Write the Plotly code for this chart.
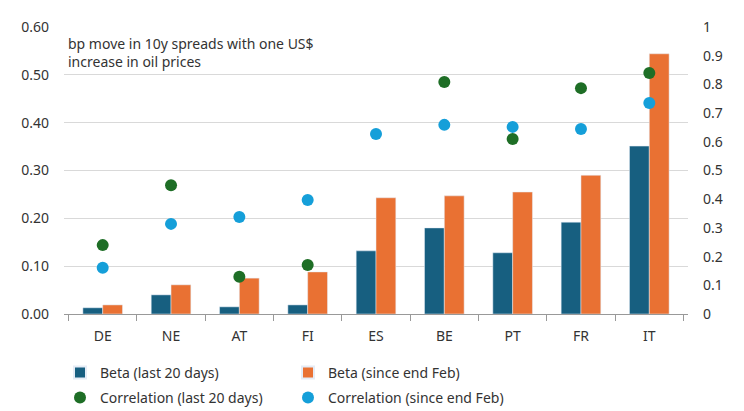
import plotly.graph_objects as go

countries = ['DE', 'NE', 'AT', 'FI', 'ES', 'BE', 'PT', 'FR', 'IT']

# betas (left axis, bp per US$)
beta_20d = [0.013, 0.040, 0.015, 0.019, 0.132, 0.180, 0.128, 0.192, 0.351]
beta_feb = [0.019, 0.061, 0.075, 0.088, 0.243, 0.247, 0.255, 0.290, 0.544]

# correlations (right axis)
corr_20d = [0.240, 0.449, 0.130, 0.171, None, 0.808, 0.610, 0.787, 0.840]
corr_feb = [0.161, 0.314, 0.338, 0.397, 0.627, 0.659, 0.652, 0.645, 0.735]

left_ticks = [0, 0.1, 0.2, 0.3, 0.4, 0.5, 0.6]
right_ticks = [0, 0.1, 0.2, 0.3, 0.4, 0.5, 0.6, 0.7, 0.8, 0.9, 1]

# page has an 8px body margin, so the figure is a bit smaller than the window
W, H = 736, 403

fig = go.Figure()
fig.add_trace(go.Bar(x=countries, y=beta_20d, name='Beta (last 20 days)',
                     marker_color='#175F80', legend='legend'))
fig.add_trace(go.Bar(x=countries, y=beta_feb, name='Beta (since end Feb)',
                     marker_color='#E97133', legend='legend'))
fig.add_trace(go.Scatter(x=countries, y=corr_20d, name='Correlation (last 20 days)',
                         mode='markers', yaxis='y2', legend='legend2',
                         marker=dict(color='#1E6E26', size=12)))
fig.add_trace(go.Scatter(x=countries, y=corr_feb, name='Correlation (since end Feb)',
                         mode='markers', yaxis='y2', legend='legend2',
                         marker=dict(color='#159FD9', size=12)))

leg = dict(orientation='h', xref='container', yref='container',
           x=52 / W, xanchor='left', yanchor='top',
           entrywidth=183, entrywidthmode='pixels', itemsizing='constant',
           font=dict(size=14), itemclick=False, itemdoubleclick=False)

fig.update_layout(
    width=W, height=H,
    margin=dict(l=56, r=56, t=19, b=97, autoexpand=False),
    plot_bgcolor='white', paper_bgcolor='white',
    font=dict(family='Noto Sans', size=14, color='#333333'),
    barmode='group', bargap=0.42, bargroupgap=0,
    xaxis=dict(showline=True, linecolor='#999999', ticks='outside',
               tickson='boundaries', tickcolor='#999999', ticklen=6,
               showgrid=False, ticklabelstandoff=9, automargin=False),
    yaxis=dict(range=[0, 0.6], tickvals=left_ticks, tickformat='.2f',
               showgrid=True, gridcolor='#d9d9d9', zeroline=False,
               ticks='', ticklabelstandoff=14, automargin=False),
    yaxis2=dict(range=[0, 1], tickvals=right_ticks, overlaying='y', side='right',
                showgrid=False, zeroline=False, ticklabelstandoff=14,
                ticktext=[f'{v:g}' for v in right_ticks], automargin=False),
    legend=dict(leg, y=1 - 349 / H),
    legend2=dict(leg, y=1 - 374 / H),
    annotations=[dict(text='bp move in 10y spreads with one US$<br>increase in oil prices',
                      xref='paper', yref='paper', x=0.003, y=0.982,
                      xanchor='left', yanchor='top', align='left',
                      showarrow=False, font=dict(size=14, color='#333333'))],
)

fig.write_html("out.html")
